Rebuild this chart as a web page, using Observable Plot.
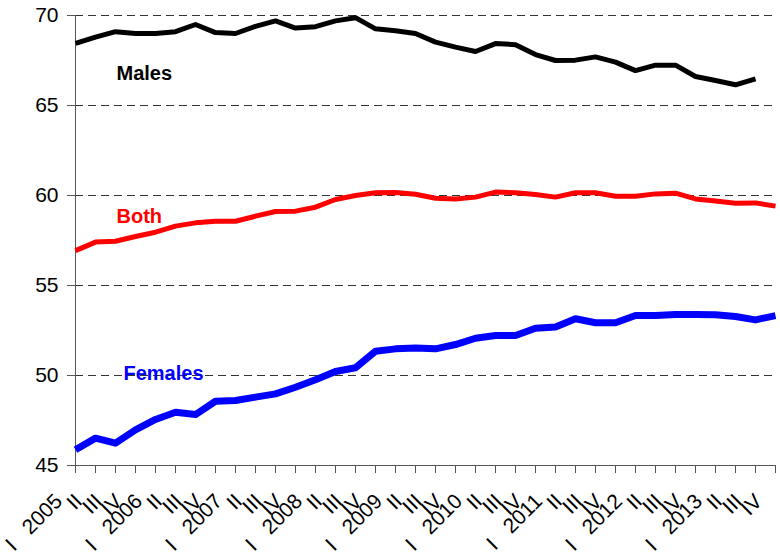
<!DOCTYPE html>
<html><head><meta charset="utf-8">
<script src="https://cdn.jsdelivr.net/npm/d3@7"></script>
<script src="https://cdn.jsdelivr.net/npm/@observablehq/plot@0.6"></script>
<style>body{margin:0;background:#fff} svg{display:block}</style>
</head><body><div id="chart"></div>
<script>
const years = [2005, 2006, 2007, 2008, 2009, 2010, 2011, 2012, 2013];
const quarterNames = ["I", "II", "III", "IV"];
const yTicks = [45, 50, 55, 60, 65, 70];
const gridValues = [50, 55, 60, 65, 70];

const males = [68.45, 68.8, 69.1, 69.0, 69.0, 69.1, 69.5, 69.05, 69.0, 69.4, 69.7, 69.3, 69.38, 69.7, 69.88, 69.26, 69.15, 69.0, 68.52, 68.24, 68.0, 68.44, 68.38, 67.83, 67.5, 67.52, 67.7, 67.41, 66.94, 67.24, 67.24, 66.61, 66.39, 66.15, 66.48];
const both = [56.94, 57.41, 57.46, 57.72, 57.96, 58.3, 58.48, 58.57, 58.57, 58.85, 59.11, 59.13, 59.35, 59.78, 60.0, 60.15, 60.17, 60.07, 59.85, 59.81, 59.91, 60.19, 60.15, 60.06, 59.91, 60.15, 60.15, 59.96, 59.96, 60.09, 60.13, 59.81, 59.69, 59.57, 59.59, 59.41];
const females = [45.87, 46.52, 46.24, 46.98, 47.56, 47.96, 47.83, 48.57, 48.61, 48.8, 48.98, 49.35, 49.76, 50.22, 50.43, 51.35, 51.48, 51.53, 51.48, 51.72, 52.07, 52.22, 52.22, 52.63, 52.69, 53.15, 52.93, 52.93, 53.33, 53.33, 53.39, 53.39, 53.37, 53.28, 53.09, 53.33];

const seriesNames = ["Males", "Both", "Females"];
const seriesColors = ["#000000", "#ff0000", "#0000ff"];
const labelQuarter = [2.05, 2.05, 2.4];
const labelValue = [66.75, 58.83, 50.1];

const quarters = years.flatMap(y => quarterNames.map(q => ({year: y, q})));
const tickLabels = quarters.map(d => d.q === "I" ? "I\u00a0\u00a0\u00a0" + d.year : d.q);
const idx = d3.range(quarters.length);

const toRows = arr => arr.map((v, i) => ({i, v}));
const labels = seriesNames.map((name, k) => ({name, x: labelQuarter[k], y: labelValue[k], color: seriesColors[k]}));

const font = "'Liberation Sans', Arial, sans-serif";
const chart = Plot.plot({
  width: 780, height: 552,
  marginLeft: 75, marginRight: 5, marginTop: 15, marginBottom: 87,
  style: {fontFamily: font, fontSize: "21px", color: "#000", background: "#fff"},
  x: {domain: [0, quarters.length - 1]},
  y: {domain: [45, 70]},
  marks: [
    Plot.ruleY(gridValues, {stroke: "#333", strokeDasharray: "8,5", strokeWidth: 1}),
    Plot.axisY({ticks: yTicks, tickSize: 8, tickPadding: 9, label: null, stroke: "#555", fontSize: 21}),
    Plot.ruleX([0], {stroke: "#555", strokeWidth: 1}),
    Plot.ruleY([45], {stroke: "#555", strokeWidth: 1}),
    Plot.axisX({ticks: idx, tickSize: 8, tickFormat: () => "", label: null, stroke: "#555"}),
    Plot.text(idx, {x: d => d, text: i => tickLabels[i], frameAnchor: "bottom", rotate: -45, textAnchor: "end", lineAnchor: "bottom", dx: -12, dy: 37, fontSize: 21, fill: "#000"}),
    Plot.line(toRows(both), {x: "i", y: "v", stroke: seriesColors[1], strokeWidth: 5, strokeLinejoin: "round", strokeLinecap: "butt"}),
    Plot.line(toRows(females), {x: "i", y: "v", stroke: seriesColors[2], strokeWidth: 7, strokeLinejoin: "round", strokeLinecap: "butt"}),
    Plot.line(toRows(males), {x: "i", y: "v", stroke: seriesColors[0], strokeWidth: 5, strokeLinejoin: "round", strokeLinecap: "butt"}),
    Plot.text(labels, {x: "x", y: "y", text: "name", fill: "color", fontWeight: "bold", fontSize: 20, textAnchor: "start"})
  ]
});
document.getElementById("chart").appendChild(chart);
</script>
</body></html>
